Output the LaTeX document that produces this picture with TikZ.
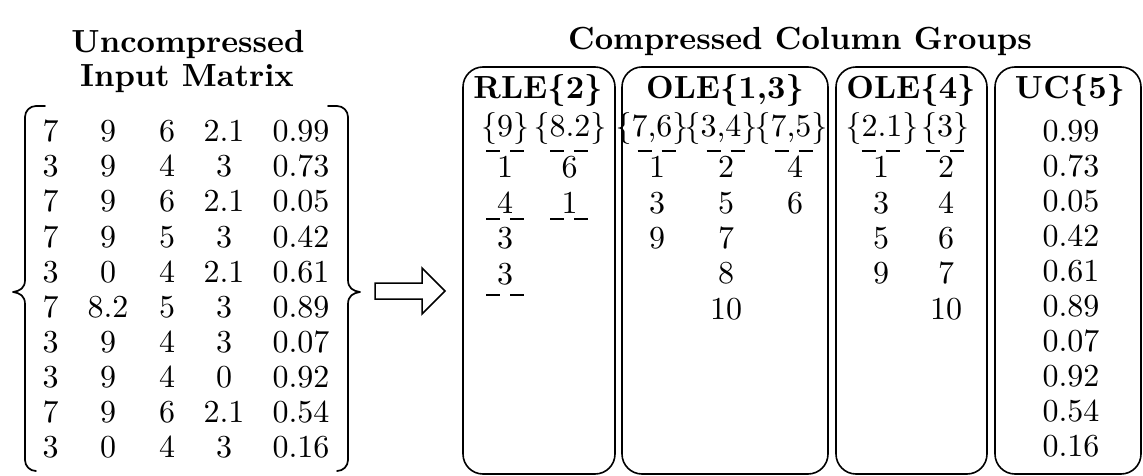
\documentclass[tikz,border=0pt]{standalone}
\usepackage{fontspec}
\setmainfont{lmroman10-regular.otf}[BoldFont=lmroman10-bold.otf]
\begin{document}
\begin{tikzpicture}[x=1pt,y=-1pt,
  t/.style={anchor=base, inner sep=0pt, font=\fontsize{32}{38}\selectfont},
  ttl/.style={anchor=base, inner sep=0pt, font=\fontsize{32}{38}\selectfont\bfseries},
  grp/.style={draw, rounded corners=20pt, line width=1.6pt, inner sep=0pt},
  ul/.style={line width=1.2pt, dash pattern=on 14pt off 10pt},
  brc/.style={line width=1.7pt, line cap=round, line join=round}]
\useasboundingbox (0,0) rectangle (1143,476);

% ---- titles
\node[ttl] (tu1) at (188,53) {Uncompressed};
\node[ttl] (tu2) at (187,87) {Input Matrix};
\node[ttl] (tc) at (800,50) {Compressed Column Groups};

% ---- input matrix
\foreach \a/\b/\c/\d/\e [count=\i from 0] in
 {7/9/6/2.1/0.99, 3/9/4/3/0.73, 7/9/6/2.1/0.05, 7/9/5/3/0.42, 3/0/4/2.1/0.61,
  7/8.2/5/3/0.89, 3/9/4/3/0.07, 3/9/4/0/0.92, 7/9/6/2.1/0.54, 3/0/4/3/0.16}{
  \node[t] (m\i a) at (50.5,{141.7+35.1*\i}) {\a};
  \node[t] (m\i b) at (108,{141.7+35.1*\i}) {\b};
  \node[t] (m\i c) at (167,{141.7+35.1*\i}) {\c};
  \node[t] (m\i d) at (224,{141.7+35.1*\i}) {\d};
  \node[t] (m\i e) at (301,{141.7+35.1*\i}) {\e};
}
% braces
\draw[brc] (45,106) -- (36,106) to[out=180,in=90] (25,117) -- (25,280)
  .. controls (25,288) and (20,291) .. (13,292)
  .. controls (20,293) and (25,296) .. (25,304) -- (25,460)
  to[out=270,in=180] (36,471);
\draw[brc] (328,106) -- (337,106) to[out=0,in=90] (348,117) -- (348,280)
  .. controls (348,288) and (353,291) .. (360,292)
  .. controls (353,293) and (348,296) .. (348,304) -- (348,460)
  to[out=270,in=0] (337,471);

% ---- block arrow
\draw[line width=1.5pt, line join=miter] (375,283) -- (422,283) -- (422,268) -- (445,291)
  -- (422,314) -- (422,299) -- (375,299) -- cycle;

% ---- group boxes
\node[grp, minimum width=152pt, minimum height=407pt] (rle) at (539,270.5) {};
\node[grp, minimum width=206pt, minimum height=407pt] (ole13) at (725,270.5) {};
\node[grp, minimum width=151pt, minimum height=407pt] (ole4) at (911.5,270.5) {};
\node[grp, minimum width=146pt, minimum height=407pt] (uc) at (1068,270.5) {};

\node[ttl] (trle) at (538,99) {RLE\{2\}};
\node[ttl] (tole13) at (725,99) {OLE\{1,3\}};
\node[ttl] (tole4) at (911,99) {OLE\{4\}};
\node[ttl] (tuc) at (1070,99) {UC\{5\}};

% RLE{2}
\node[t] (rh1) at (505,137) {\{9\}};
\node[t] (rh2) at (570,137) {\{8.2\}};
\draw[ul] (486,151) -- (525,151);
\draw[ul] (550,151) -- (589,151);
\node[t] (r1a) at (505,178) {1};
\node[t] (r1b) at (569.5,178) {6};
\node[t] (r2a) at (505,213) {4};
\node[t] (r2b) at (569.5,213) {1};
\draw[ul] (486,219) -- (525,219);
\draw[ul] (550,219) -- (589,219);
\node[t] (r3a) at (505,248.5) {3};
\node[t] (r4a) at (505,284) {3};
\draw[ul] (486,295) -- (525,295);

% OLE{1,3}
\node[t] (oh1) at (652,137) {\{7,6\}};
\node[t] (oh2) at (721,137) {\{3,4\}};
\node[t] (oh3) at (791,137) {\{7,5\}};
\draw[ul] (637.5,151) -- (676.5,151);
\draw[ul] (706.5,151) -- (745.5,151);
\draw[ul] (774.5,151) -- (813.5,151);
\foreach \v [count=\i from 0] in {1,3,9}
  \node[t] (oa\i) at (657,{178+35.25*\i}) {\v};
\foreach \v [count=\i from 0] in {2,5,7,8,10}
  \node[t] (ob\i) at (726,{178+35.25*\i}) {\v};
\foreach \v [count=\i from 0] in {4,6}
  \node[t] (oc\i) at (795,{178+35.25*\i}) {\v};

% OLE{4}
\node[t] (ph1) at (882,137) {\{2.1\}};
\node[t] (ph2) at (945,137) {\{3\}};
\draw[ul] (861.5,151) -- (900.5,151);
\draw[ul] (926,151) -- (965,151);
\foreach \v [count=\i from 0] in {1,3,5,9}
  \node[t] (pa\i) at (881,{178+35.25*\i}) {\v};
\foreach \v [count=\i from 0] in {2,4,6,7,10}
  \node[t] (pb\i) at (946,{178+35.25*\i}) {\v};

% UC{5}
\foreach \v [count=\i from 0] in {0.99,0.73,0.05,0.42,0.61,0.89,0.07,0.92,0.54,0.16}
  \node[t] (u\i) at (1071,{141.9+35*\i}) {\v};
\end{tikzpicture}
\end{document}
